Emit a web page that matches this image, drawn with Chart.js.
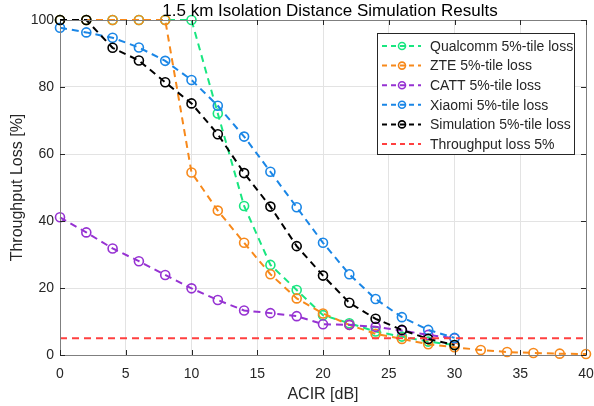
<!DOCTYPE html>
<html>
<head>
<meta charset="utf-8">
<script src="https://cdn.jsdelivr.net/npm/chart.js@4"></script>
<style>
  html, body { margin: 0; padding: 0; background: #fff; }
  #wrap { width: 594px; height: 406px; }
</style>
</head>
<body>
<div id="wrap"><canvas id="chart" width="594" height="406"></canvas></div>
<script>
// ACIR [dB] sample points
const acir = [0, 2, 4, 6, 8, 10, 12, 14, 16, 18, 20, 22, 24, 26, 28, 30]
const acirZte = [0, 2, 4, 6, 8, 10, 12, 14, 16, 18, 20, 22, 24, 26, 28, 30, 32, 34, 36, 38, 40]

// throughput loss [%]
const qualcomm = [100, 100, 100, 100, 100, 100, 72.1, 44.5, 26.9, 19.4, 11.9, 9.5, 7.0, 5.5, 4.0, 3.0]
const zte = [100, 100, 100, 100, 100, 54.5, 43.1, 33.5, 24.1, 16.9, 12.4, 9.0, 6.3, 4.8, 3.2, 2.3, 1.5, 0.9, 0.6, 0.4, 0.3]
const catt = [41.1, 36.6, 31.8, 28.0, 23.9, 19.9, 16.4, 13.3, 12.5, 11.6, 9.2, 9.0, 8.4, 7.3, 6.0, 5.0]
const xiaomi = [97.7, 96.3, 94.7, 91.8, 87.8, 82.1, 74.4, 65.2, 54.7, 44.1, 33.5, 24.1, 16.7, 11.3, 7.5, 5.1]
const simulation = [100, 100, 91.7, 87.9, 81.4, 75.1, 65.9, 54.3, 44.3, 32.5, 23.7, 15.6, 10.8, 7.5, 4.8, 3.0]
const thresholdX = [0, 40]
const threshold = [5, 5]

const xTicks = [0, 5, 10, 15, 20, 25, 30, 35, 40]
const yTicks = [0, 20, 40, 60, 80, 100]

const toXY = (xs, ys) => xs.map((x, i) => ({x: x, y: ys[i]}))

// later series go on top, like plotting with hold on
function series(label, xs, ys, color, marker, order){
    return {
        label: label,
        data: toXY(xs, ys),
        order: order,
        borderColor: color,
        backgroundColor: color,
        borderWidth: 2,
        borderDash: [7, 5],
        pointStyle: marker ? "circle" : false,
        pointRadius: marker ? 4.5 : 0,
        pointBorderWidth: 1.6,
        pointBorderColor: color,
        pointBackgroundColor: "rgba(0,0,0,0)",
        tension: 0,
        fill: false
    }
}

const FONT = "'Liberation Sans', Arial, sans-serif"
const TXT = "#262626"

// title, axis labels, box and legend drawn by hand, MATLAB style
const decorations = {
    id: "decorations",
    afterDraw(chart){
        const c = chart.ctx
        const a = chart.chartArea
        c.save()

        // box
        c.strokeStyle = "#7f7f7f"
        c.lineWidth = 1
        c.setLineDash([])
        c.strokeRect(a.left + 0.5, a.top + 0.5, a.right - a.left, a.bottom - a.top)

        // inward ticks
        const xs = chart.scales.x, ys = chart.scales.y
        c.strokeStyle = "#262626"
        xTicks.forEach(t => {
            const px = Math.round(xs.getPixelForValue(t)) + 0.5
            c.beginPath(); c.moveTo(px, a.top); c.lineTo(px, a.top + 5); c.stroke()
            c.beginPath(); c.moveTo(px, a.bottom); c.lineTo(px, a.bottom - 5); c.stroke()
        })
        yTicks.forEach(t => {
            const py = Math.round(ys.getPixelForValue(t)) + 0.5
            c.beginPath(); c.moveTo(a.right, py); c.lineTo(a.right - 5, py); c.stroke()
            c.beginPath(); c.moveTo(a.left, py); c.lineTo(a.left + 5, py); c.stroke()
        })

        // title
        c.fillStyle = "#000"
        c.font = "17px " + FONT
        c.textAlign = "center"
        c.textBaseline = "middle"
        c.fillText("1.5 km Isolation Distance Simulation Results", 330, 11)

        // axis titles
        c.fillStyle = TXT
        c.font = "16px " + FONT
        c.fillText("ACIR [dB]", (a.left + a.right) / 2, 395)
        c.save()
        c.translate(18, (a.top + a.bottom) / 2)
        c.rotate(-Math.PI / 2)
        c.fillText("Throughput Loss [%]", 0, 0)
        c.restore()

        // legend
        const lx = 377, ly = 33, lw = 197, lh = 121
        c.fillStyle = "#fff"
        c.fillRect(lx, ly, lw, lh)
        c.strokeStyle = "#262626"
        c.lineWidth = 1
        c.strokeRect(lx + 0.5, ly + 0.5, lw, lh)
        c.font = "14px " + FONT
        c.textAlign = "left"
        chart.data.datasets.forEach((ds, i) => {
            const y = ly + 13 + i * 19.6
            c.strokeStyle = ds.borderColor
            c.lineWidth = 2
            c.setLineDash([5, 4])
            c.beginPath(); c.moveTo(lx + 5, y); c.lineTo(lx + 44, y); c.stroke()
            c.setLineDash([])
            if(ds.pointRadius > 0){
                c.lineWidth = 1.6
                c.beginPath(); c.arc(lx + 25, y, 3.5, 0, Math.PI * 2); c.stroke()
            }
            c.fillStyle = TXT
            c.fillText(ds.label, lx + 53, y + 1)
        })
        c.restore()
    }
}

new Chart(document.getElementById("chart"), {
    type: "line",
    data: {
        datasets: [
            series("Qualcomm 5%-tile loss", acir, qualcomm, "#19e680", true, 6),
            series("ZTE 5%-tile loss", acirZte, zte, "#f7891b", true, 5),
            series("CATT 5%-tile loss", acir, catt, "#9632d2", true, 4),
            series("Xiaomi 5%-tile loss", acir, xiaomi, "#1a86e6", true, 3),
            series("Simulation 5%-tile loss", acir, simulation, "#000000", true, 2),
            series("Throughput loss 5%", thresholdX, threshold, "#ff4040", false, 1)
        ]
    },
    options: {
        responsive: false,
        animation: false,
        clip: false,
        layout: { padding: { left: 0, right: 8, top: 20, bottom: 0 } },
        plugins: {
            legend: { display: false },
            title: { display: false },
            tooltip: { enabled: false }
        },
        scales: {
            x: {
                type: "linear",
                min: 0,
                max: 40,
                afterBuildTicks: s => { s.ticks = xTicks.map(v => ({value: v})) },
                afterFit: s => { s.height = 51; s.paddingLeft = 0; s.paddingRight = 0 },
                ticks: { color: TXT, font: { size: 14, family: FONT }, padding: 11, maxRotation: 0 },
                grid: { color: "#e3e3e3", drawTicks: false },
                border: { display: false }
            },
            y: {
                min: 0,
                max: 100,
                afterBuildTicks: s => { s.ticks = yTicks.map(v => ({value: v})) },
                afterFit: s => { s.width = 60; s.paddingTop = 0; s.paddingBottom = 0 },
                ticks: { color: TXT, font: { size: 14, family: FONT }, padding: 6 },
                grid: { color: "#e3e3e3", drawTicks: false },
                border: { display: false }
            }
        }
    },
    plugins: [decorations]
})
</script>
</body>
</html>
